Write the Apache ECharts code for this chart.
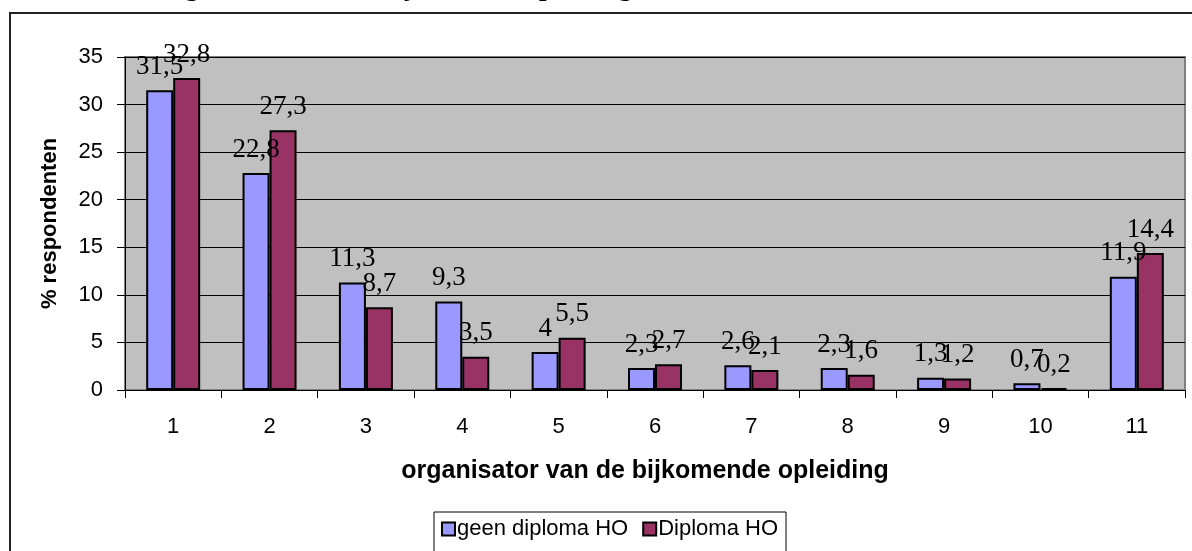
<!DOCTYPE html>
<html>
<head>
<meta charset="utf-8">
<script src="https://cdn.jsdelivr.net/npm/echarts@6/dist/echarts.min.js"></script>
<style>
  html, body { margin: 0; padding: 0; background: #fff; }
  #chart { width: 1192px; height: 551px; }
</style>
</head>
<body>
<div id="chart"></div>
<script>
  // organisator van de bijkomende opleiding (1..11)
  const categories = ['1', '2', '3', '4', '5', '6', '7', '8', '9', '10', '11'];
  const geenDiplomaHO = [31.5, 22.8, 11.3, 9.3, 4, 2.3, 2.6, 2.3, 1.3, 0.7, 11.9];
  const diplomaHO = [32.8, 27.3, 8.7, 3.5, 5.5, 2.7, 2.1, 1.6, 1.2, 0.2, 14.4];

  const serif = '"Liberation Serif", "Times New Roman", serif';
  const sans = '"Liberation Sans", Arial, sans-serif';

  const barLabel = {
    show: true,
    position: 'top',
    distance: 10,
    color: '#000',
    fontFamily: serif,
    fontSize: 27,
    formatter: p => String(p.value).replace('.', ',')
  };

  const chart = echarts.init(document.getElementById('chart'));

  const option = {
    animation: false,
    backgroundColor: '#fff',
    // caption above the chart, cut off by the page edge
    title: {
      text: 'Organisator van de bijkomende opleiding',
      left: 147,
      top: -30,
      textStyle: { fontFamily: serif, fontWeight: 'bold', fontSize: 27, color: '#000' }
    },
    graphic: [
      {
        type: 'rect',
        shape: { x: 10, y: 13, width: 1200, height: 560 },
        style: { fill: 'none', stroke: '#222', lineWidth: 2 },
        z: -1
      }
    ],
    legend: {
      data: ['geen diploma HO', 'Diploma HO'],
      left: 434,
      top: 512,
      padding: [6, 8, 14, 7],
      itemWidth: 13,
      itemHeight: 13,
      itemGap: 14,
      borderColor: '#000',
      borderWidth: 1,
      icon: 'rect',
      itemStyle: { borderColor: '#000', borderWidth: 2 },
      textStyle: { fontFamily: sans, fontSize: 22, color: '#000', padding: [0, 0, 0, -3] }
    },
    grid: {
      left: 125,
      right: 7,
      top: 57,
      bottom: 161,
      show: true,
      backgroundColor: '#c0c0c0',
      borderColor: '#808080',
      borderWidth: 2
    },
    xAxis: {
      type: 'category',
      data: categories,
      name: 'organisator van de bijkomende opleiding',
      nameLocation: 'middle',
      nameGap: 69,
      nameTextStyle: { fontFamily: sans, fontWeight: 'bold', fontSize: 25, color: '#000', padding: [0, 20, 0, 0] },
      axisLine: { lineStyle: { color: '#000', width: 1 } },
      axisTick: { show: true, inside: false, length: 8, alignWithLabel: false, lineStyle: { color: '#000' } },
      axisLabel: { fontFamily: sans, fontSize: 22, color: '#000', margin: 26 },
      splitLine: { show: false }
    },
    yAxis: {
      type: 'value',
      min: 0,
      max: 35,
      interval: 5,
      name: '% respondenten',
      nameLocation: 'middle',
      nameGap: 64,
      nameTextStyle: { fontFamily: sans, fontWeight: 'bold', fontSize: 22, color: '#000' },
      axisLine: { show: true, lineStyle: { color: '#000', width: 1 } },
      axisTick: { show: true, inside: false, length: 8, lineStyle: { color: '#000' } },
      axisLabel: { fontFamily: sans, fontSize: 22, color: '#000', margin: 22 },
      splitLine: { show: true, lineStyle: { color: '#000', width: 1 } }
    },
    series: [
      {
        name: 'geen diploma HO',
        type: 'bar',
        data: geenDiplomaHO,
        barWidth: 27,
        barGap: '0%',
        itemStyle: { color: '#9999ff', borderColor: '#000', borderWidth: 2 },
        label: barLabel
      },
      {
        name: 'Diploma HO',
        type: 'bar',
        data: diplomaHO,
        barWidth: 27,
        barGap: '0%',
        itemStyle: { color: '#993366', borderColor: '#000', borderWidth: 2 },
        label: barLabel
      }
    ]
  };

  chart.setOption(option);
</script>
</body>
</html>
